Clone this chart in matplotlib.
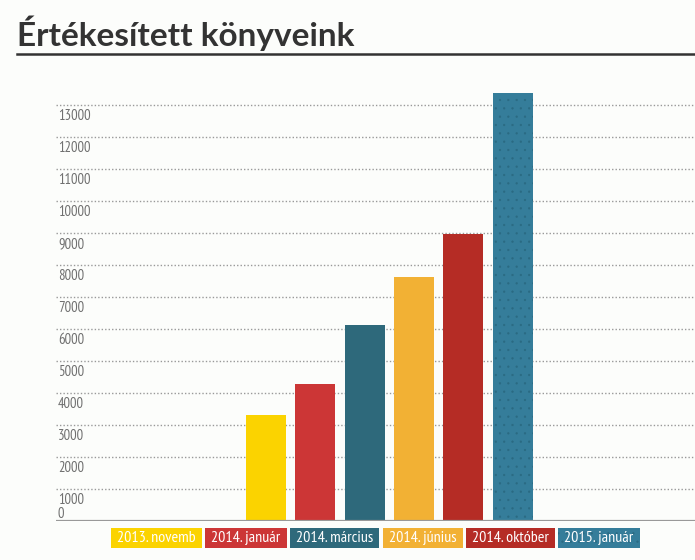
import matplotlib
matplotlib.use("Agg")
import matplotlib.pyplot as plt
import matplotlib.transforms as mtransforms
from matplotlib.lines import Line2D
from matplotlib.patches import Rectangle

# data
periods = ["2013. novemb", "2014. január", "2014. március",
           "2014. június", "2014. október", "2015. január"]
sold = [3300, 4280, 6130, 7610, 8980, 13380]
colors = ["#fbd300", "#cc3636", "#2e697b", "#f2b134", "#b52c25", "#357d9a"]
yticks = list(range(0, 14000, 1000))

bg = "#fcfdfb"
narrow = ["PT Sans Narrow", "DejaVu Sans"]
W, H = 695, 560
dots = "#2a6a82"
plt.rcParams["hatch.linewidth"] = 0.4

fig = plt.figure(figsize=(W / 100, H / 100), dpi=100, facecolor=bg)
ax = fig.add_axes([56 / W, 39 / H, 639 / W, 448 / H])
ax.set_facecolor(bg)

x = list(range(len(periods)))
bars = ax.bar(x, sold, width=0.81, color=colors, linewidth=0, zorder=3)
bars[-1].set_hatch("..")
bars[-1].set_edgecolor(dots)

ax.set_xlim(-4.26, 8.70)
ax.set_ylim(0, 14000)

# dotted grid and solid baseline
for v in yticks[1:]:
    ax.axhline(v, color="#999999", lw=1, ls=(0, (1, 1.5)), zorder=1)
ax.axhline(0, color="#999999", lw=1.6, zorder=4)

for s in ax.spines.values():
    s.set_visible(False)
ax.set_xticks([])
ax.set_yticks([])

# y labels sit inside the plot, just under each gridline (0 sits above)
tr = mtransforms.blended_transform_factory(ax.transAxes, ax.transData)
for v in yticks:
    dy = 3 / 100 if v == 0 else -4.5 / 100
    off = mtransforms.ScaledTranslation(2 / 100, dy, fig.dpi_scale_trans)
    ax.text(0, v, str(v), transform=tr + off, ha="left",
            va="top" if v else "baseline", fontsize=10.5, color="#707070",
            family=narrow)

# title and rule
fig.text(17 / W, 1 - 46 / H, "Értékesített könyveink", family="Lato",
         fontweight="bold", fontsize=24, color="#333333", va="baseline")
fig.add_artist(Line2D([17 / W, 1], [1 - 54 / H] * 2, color="#333333",
                      lw=1.8, transform=fig.transFigure))

# legend: coloured boxes with white text, centred under the axes
texts = [fig.text(0, 1 - 538 / H, p, color="white", fontsize=11.5,
                  family=narrow, va="center", ha="center", zorder=5)
         for p in periods]
fig.canvas.draw()
r = fig.canvas.get_renderer()
widths = [t.get_window_extent(r).width + 12 for t in texts]
gap = 3.5
total = sum(widths) + gap * (len(widths) - 1)
start = 375.5 - total / 2
for t, w, c in zip(texts, widths, colors):
    box = Rectangle((start / W, 1 - 548 / H), w / W, 20 / H,
                    transform=fig.transFigure, fc=c, lw=0, zorder=4)
    if c == colors[-1]:
        box.set_hatch("..")
        box.set_edgecolor(dots)
    fig.add_artist(box)
    t.set_x((start + w / 2) / W)
    start += w + gap

fig.savefig("out.png", dpi=100, facecolor=bg)
